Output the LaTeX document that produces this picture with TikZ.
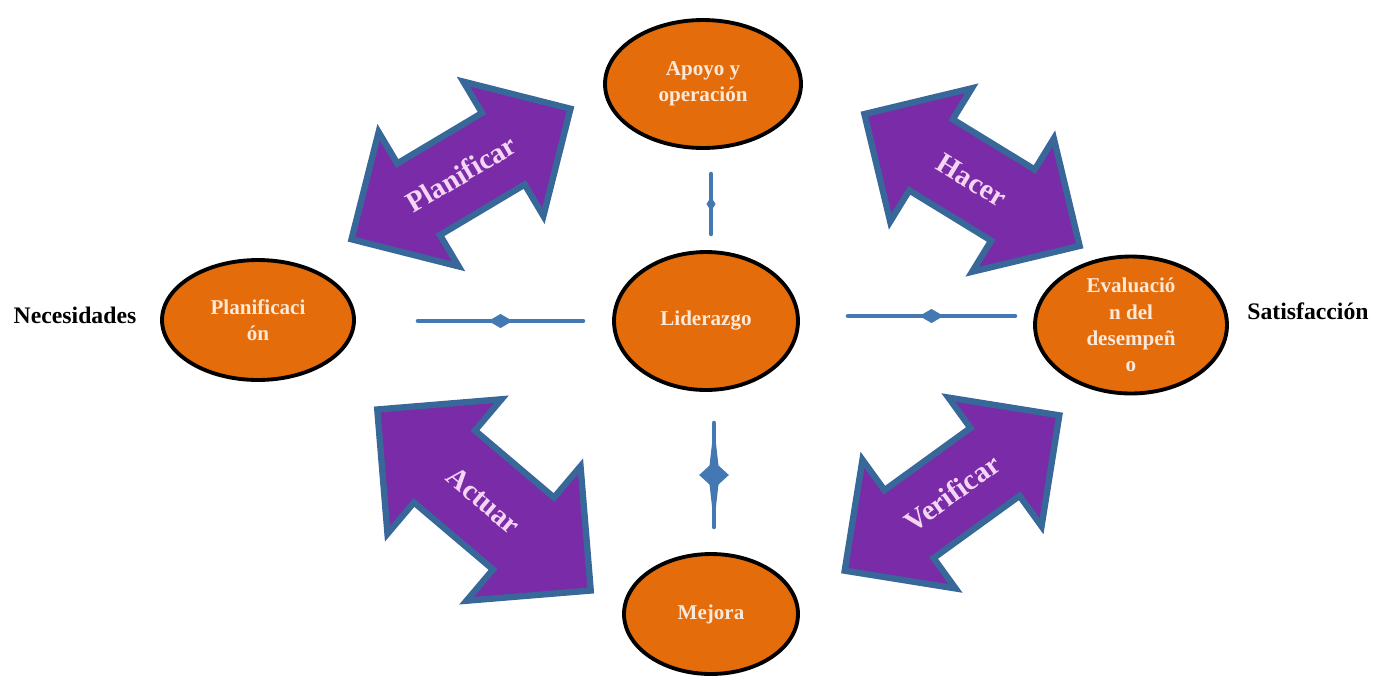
\documentclass[tikz,border=0pt]{standalone}
\usepackage{fontspec}
\setmainfont{Liberation Serif}
\usetikzlibrary{shapes.geometric,shapes.arrows}
\definecolor{ovalorange}{HTML}{E46C0A}
\definecolor{ovaltext}{HTML}{FDE9D9}
\definecolor{arrowpurple}{HTML}{7A2BA8}
\definecolor{arrowblue}{HTML}{38679A}
\definecolor{arrowtext}{HTML}{F4D6F4}
\definecolor{linkblue}{HTML}{4478B2}

\begin{document}
\begin{tikzpicture}[x=0.02cm,y=-0.02cm,
	oval/.style={ellipse,draw=black,line width=2.2pt,fill=ovalorange,inner sep=0pt,align=center,
		text=ovaltext,font=\bfseries\fontsize{12}{15}\selectfont},
	cyclearrow/.style={double arrow,double arrow tip angle=90,draw=arrowblue,line width=3.6pt,
		fill=arrowpurple,inner xsep=0pt,text height=0.4cm,text depth=0cm,
		text=arrowtext,font=\bfseries\fontsize{16.5}{18}\selectfont},
	sidelabel/.style={font=\bfseries\fontsize{13.5}{16}\selectfont},
	link/.style={draw=linkblue,line width=2.6pt,line cap=round},
	knot/.style={diamond,fill=linkblue,inner sep=0pt}]
	\useasboundingbox (0,0) rectangle (1375,677);

	% the four double arrows of the cycle
	\node[cyclearrow,rotate=30.8,minimum height=5.1cm,inner ysep=0.57cm,double arrow head extend=0.73cm] (planificar) at (461,174) {Planificar};
	\node[cyclearrow,rotate=-31.5,minimum height=5.05cm,inner ysep=0.57cm,double arrow head extend=0.73cm] (hacer) at (972,180) {Hacer};
	\node[cyclearrow,rotate=-40.3,minimum height=5.6cm,inner ysep=0.68cm,double arrow head extend=0.82cm] (actuar) at (484,500) {Actuar};
	\node[cyclearrow,rotate=35.9,minimum height=5.3cm,inner ysep=0.575cm,double arrow head extend=0.75cm] (verificar) at (952,493) {Verificar};

	% the stages
	\node[oval,minimum width=3.92cm,minimum height=2.56cm] (apoyo) at (703,84) {Apoyo y\\operación};
	\node[oval,minimum width=3.84cm,minimum height=2.40cm] (planif) at (258,320) {Planificaci\\ón};
	\node[oval,minimum width=3.68cm,minimum height=2.76cm] (lider) at (706,321) {Liderazgo};
	\node[oval,minimum width=3.84cm,minimum height=2.74cm] (evalua) at (1131,325) {Evaluació\\n del\\desempeñ\\o};
	\node[oval,minimum width=3.48cm,minimum height=2.40cm] (mejora) at (711,614) {Mejora};

	\node[sidelabel] (necesidades) at (75,315) {Necesidades};
	\node[sidelabel] (satisfaccion) at (1308,311) {Satisfacción};

	% short links around Liderazgo
	\coordinate (lw1) at (418,321); \coordinate (lw2) at (583,321);
	\coordinate (le1) at (848,316); \coordinate (le2) at (1015,316);
	\coordinate (ln1) at (711,174); \coordinate (ln2) at (711,234);
	\coordinate (ls1) at (714,423); \coordinate (ls2) at (714,527);
	\draw[link] (lw1) -- node[knot,minimum width=0.52cm,minimum height=0.32cm] (kw) {} (lw2);
	\draw[link] (le1) -- node[knot,minimum width=0.52cm,minimum height=0.32cm] (ke) {} (le2);
	\draw[link] (ln1) -- node[knot,minimum width=0.22cm,minimum height=0.32cm] (kn) {} (ln2);
	\draw[link] (ls1) -- node[knot,minimum width=0.26cm,minimum height=2.0cm] (ksl) {} (ls2);
	\node[knot,minimum width=0.6cm,minimum height=0.55cm] (ks) at (ksl) {};
\end{tikzpicture}
\end{document}
